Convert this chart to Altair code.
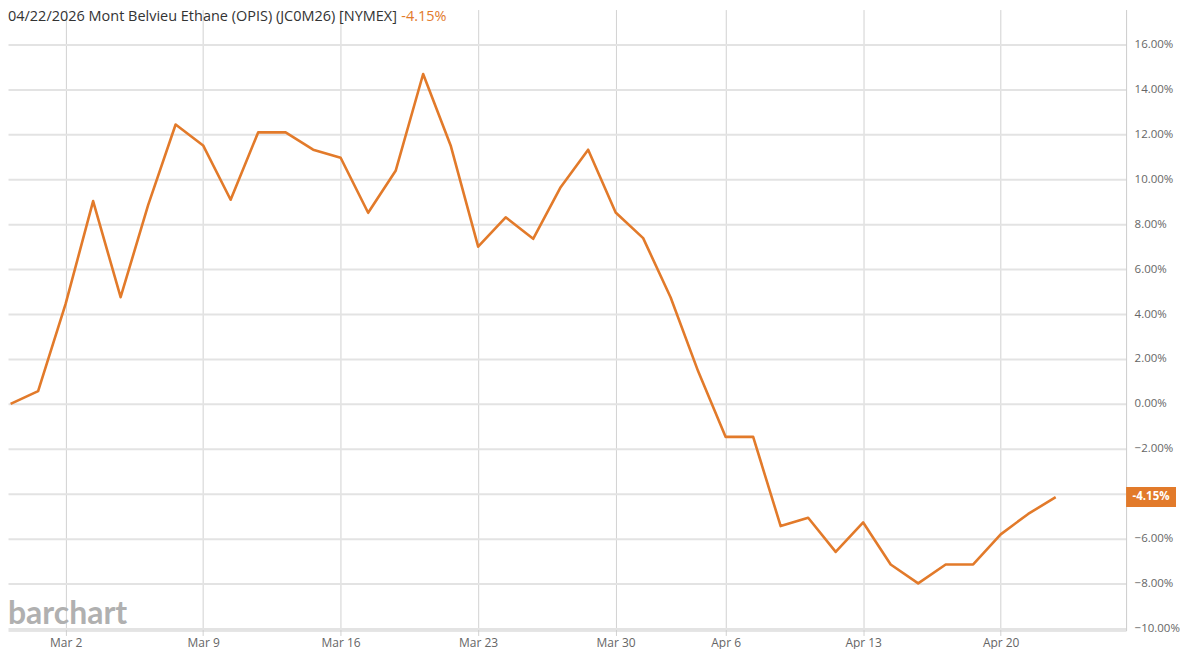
import altair as alt
import pandas as pd

# Trading days (x positions are trading-day indices)
dates = ["Feb 26", "Feb 27",
         "Mar 2", "Mar 3", "Mar 4", "Mar 5", "Mar 6",
         "Mar 9", "Mar 10", "Mar 11", "Mar 12", "Mar 13",
         "Mar 16", "Mar 17", "Mar 18", "Mar 19", "Mar 20",
         "Mar 23", "Mar 24", "Mar 25", "Mar 26", "Mar 27",
         "Mar 30", "Mar 31", "Apr 1", "Apr 2",
         "Apr 6", "Apr 7", "Apr 8", "Apr 9", "Apr 10",
         "Apr 13", "Apr 14", "Apr 15", "Apr 16", "Apr 17",
         "Apr 20", "Apr 21", "Apr 22"]
pct_change = [0.00, 0.57, 4.45, 9.03, 4.75, 8.85, 12.44,
              11.51, 9.09, 12.09, 12.09, 11.32,
              10.96, 8.51, 10.38, 14.69, 11.51,
              7.00, 8.31, 7.35, 9.65, 11.32,
              8.52, 7.38, 4.74, 1.45,
              -1.47, -1.47, -5.44, -5.07, -6.59,
              -5.28, -7.15, -7.99, -7.15, -7.15,
              -5.81, -4.90, -4.15]
tick_labels = ["Mar 2", "Mar 9", "Mar 16", "Mar 23", "Mar 30", "Apr 6", "Apr 13", "Apr 20"]
y_ticks = [-10, -8, -6, -4, -2, 0, 2, 4, 6, 8, 10, 12, 14, 16]
title_main = "04/22/2026 Mont Belvieu Ethane (OPIS) (JC0M26) [NYMEX]"
last_label = "-4.15%"

ORANGE = "#e27a2a"
FONT = "Open Sans"

df = pd.DataFrame({"date": dates, "idx": list(range(len(dates))), "v": pct_change})
tick_idx = [dates.index(t) for t in tick_labels]
label_expr = " : ".join(
    [f"datum.value == {i} ? '{t}'" for i, t in zip(tick_idx, tick_labels)]
) + " : ''"

W, H = 1120, 622
xscale = alt.Scale(domain=[-0.095, 40.56], nice=False, zero=False)
yscale = alt.Scale(domain=[-10.09, 17.56], nice=False, zero=False)

base = alt.Chart(df)

line = base.mark_line(color=ORANGE, strokeWidth=2.6, strokeJoin="round",
                      clip=False).encode(
    x=alt.X("idx:Q", scale=xscale,
            axis=alt.Axis(values=tick_idx, labelExpr=label_expr, title=None,
                          grid=True, gridColor="#d2d2d2", gridWidth=1,
                          domainColor="#cccccc", domainWidth=1,
                          tickColor="#d2d2d2", tickSize=5, labelPadding=2,
                          labelColor="#666666", labelFontSize=12, labelFont=FONT)),
    y=alt.Y("v:Q", scale=yscale,
            axis=alt.Axis(orient="right", values=y_ticks,
                          labelExpr="datum.value == -4 ? '' : format(datum.value, '.2f') + '%'",
                          title=None, grid=True, gridColor="#e3e3e3", gridWidth=2,
                          domainColor="#cccccc", domainWidth=1, ticks=False,
                          labelPadding=8, labelColor="#666666", labelFontSize=11.5,
                          labelFont=FONT)),
)

last_df = df.tail(1).assign(lbl=last_label)
box = alt.Chart(last_df).mark_point(
    shape="M-1,-0.4L1,-0.4L1,0.4L-1,0.4Z", filled=True, color=ORANGE,
    size=2500, opacity=1, clip=False
).encode(x=alt.value(W + 25), y=alt.Y("v:Q", scale=yscale))
box_text = alt.Chart(last_df).mark_text(
    color="white", fontWeight="bold", fontSize=11.5, font=FONT, align="center",
    baseline="middle", clip=False
).encode(x=alt.value(W + 25), y=alt.Y("v:Q", scale=yscale), text="lbl:N")

title_df = pd.DataFrame({"t": [title_main], "c": [last_label]})
title = alt.Chart(title_df).mark_text(
    align="left", baseline="top", fontSize=14.5, font=FONT, color="#333333"
).encode(x=alt.value(0), y=alt.value(0), text="t:N")
title_chg = alt.Chart(title_df).mark_text(
    align="left", baseline="top", fontSize=14.5, font=FONT, color=ORANGE
).encode(x=alt.value(394), y=alt.value(0), text="c:N")

wm_df = pd.DataFrame({"w": ["barchart"]})
watermark = alt.Chart(wm_df).mark_text(
    align="left", baseline="alphabetic", fontSize=32, font="Lato",
    fontWeight="bold", color="#b0b0b0"
).encode(x=alt.value(0), y=alt.value(616), text="w:N")

chart = alt.layer(line, box, box_text, title, title_chg, watermark).properties(
    width=W, height=H, padding=0
).configure_view(stroke=None)

chart.save("out.html", embed_options={"renderer": "svg", "actions": False})
